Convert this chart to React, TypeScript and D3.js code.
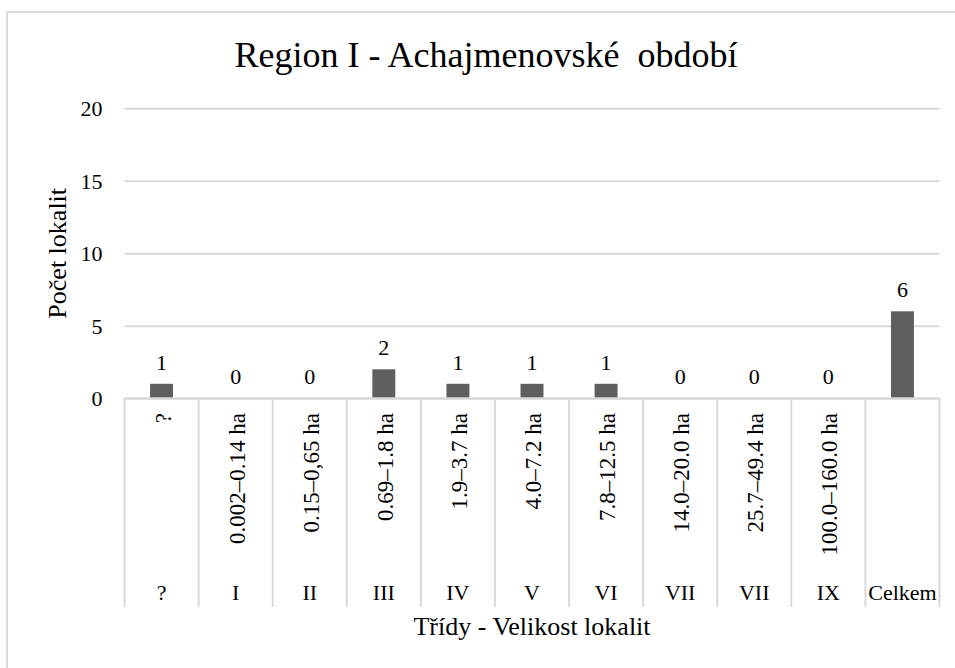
import React, { useRef, useEffect } from "react";
import * as d3 from "d3";

// category data
const classes = ["?", "I", "II", "III", "IV", "V", "VI", "VII", "VII", "IX", "Celkem"];
const sizeRanges = ["?", "0.002–0.14 ha", "0.15–0,65 ha", "0.69–1.8 ha", "1.9–3.7 ha", "4.0–7.2 ha", "7.8–12.5 ha", "14.0–20.0 ha", "25.7–49.4 ha", "100.0–160.0 ha", ""];
const counts = [1, 0, 0, 2, 1, 1, 1, 0, 0, 0, 6];
const yTicks = [0, 5, 10, 15, 20];

const W = 955;
const H = 668;
const FONT = "'Liberation Serif', 'Times New Roman', serif";

export default function App() {
  const svgRef = useRef<SVGSVGElement>(null);

  useEffect(() => {
    if (!svgRef.current) return;
    const root = d3.select(svgRef.current);
    root.selectAll("*").remove();

    const plot = { left: 124.5, right: 939.5, top: 108.3, bottom: 398.3 };
    const gridColor = "#d9d9d9";
    const textColor = "#000";

    // chart frame (only top + left visible in the crop)
    root.append("line").attr("x1", 7).attr("x2", W).attr("y1", 12).attr("y2", 12).attr("stroke", gridColor).attr("stroke-width", 2);
    root.append("line").attr("x1", 7).attr("x2", 7).attr("y1", 12).attr("y2", H).attr("stroke", gridColor).attr("stroke-width", 2);

    // title (double space kept as in the original)
    root.append("text").attr("x", 486).attr("y", 67).attr("text-anchor", "middle")
      .attr("font-family", FONT).attr("font-size", "36px").attr("fill", textColor)
      .style("white-space", "pre")
      .text("Region I - Achajmenovské  období");

    const idx = classes.map((_, i) => String(i));
    const x = d3.scaleBand<string>().domain(idx).range([plot.left, plot.right]).padding(0);
    const y = d3.scaleLinear().domain([0, 20]).range([plot.bottom, plot.top]);
    const barW = x.bandwidth() * 0.31;

    // grid + y labels
    root.append("g")
      .attr("transform", `translate(${plot.left},0)`)
      .call(d3.axisLeft(y).tickValues(yTicks).tickSize(-(plot.right - plot.left)).tickFormat(d3.format("d")))
      .call((g) => g.select(".domain").remove())
      .call((g) => g.selectAll(".tick line").attr("stroke", gridColor).attr("stroke-width", 2))
      .call((g) => g.selectAll(".tick text").attr("fill", textColor).attr("font-size", "22px").attr("font-family", FONT).attr("x", -22).attr("dy", "0.34em"));

    // y title
    root.append("text")
      .attr("transform", `translate(66,${(plot.top + plot.bottom) / 2}) rotate(-90)`)
      .attr("text-anchor", "middle").attr("font-family", FONT).attr("font-size", "26px").attr("fill", textColor)
      .text("Počet lokalit");

    // bars
    root.append("g").selectAll("rect").data(counts).join("rect")
      .attr("x", (_, i) => x(String(i))! + (x.bandwidth() - barW) / 2)
      .attr("y", (d) => y(d))
      .attr("width", barW)
      .attr("height", (d) => y(0) - y(d))
      .attr("fill", "#5f5f5f");

    // value labels
    root.append("g").selectAll("text").data(counts).join("text")
      .attr("x", (_, i) => x(String(i))! + x.bandwidth() / 2)
      .attr("y", (d) => y(d) - 14)
      .attr("text-anchor", "middle").attr("font-family", FONT).attr("font-size", "22px").attr("fill", textColor)
      .text((d) => d);

    // category axis: baseline + separators spanning both levels
    const axisBottom = 607;
    root.append("line").attr("x1", plot.left).attr("x2", plot.right).attr("y1", plot.bottom).attr("y2", plot.bottom)
      .attr("stroke", gridColor).attr("stroke-width", 2);
    const bounds = idx.map((k) => x(k)!).concat([plot.right]);
    root.append("g").selectAll("line").data(bounds).join("line")
      .attr("x1", (d) => d).attr("x2", (d) => d)
      .attr("y1", plot.bottom).attr("y2", axisBottom)
      .attr("stroke", gridColor).attr("stroke-width", 2);

    // level 1: rotated size ranges
    root.append("g").selectAll("text").data(sizeRanges).join("text")
      .attr("transform", (_, i) => `translate(${x(String(i))! + x.bandwidth() / 2 + 9},413) rotate(-90)`)
      .attr("text-anchor", "end").attr("font-family", FONT).attr("font-size", "23px").attr("fill", textColor)
      .text((d) => d);

    // level 2: class labels
    root.append("g").selectAll("text").data(classes).join("text")
      .attr("x", (_, i) => x(String(i))! + x.bandwidth() / 2)
      .attr("y", 600)
      .attr("text-anchor", "middle").attr("font-family", FONT).attr("font-size", "22px").attr("fill", textColor)
      .text((d) => d);

    // x title
    root.append("text").attr("x", (plot.left + plot.right) / 2).attr("y", 635).attr("text-anchor", "middle")
      .attr("font-family", FONT).attr("font-size", "26px").attr("fill", textColor)
      .text("Třídy - Velikost lokalit");
  }, []);

  return (
    <div style={{ position: "absolute", left: 0, top: 0, width: W, height: H, background: "#fff" }}>
      <svg ref={svgRef} width={W} height={H} />
    </div>
  );
}
